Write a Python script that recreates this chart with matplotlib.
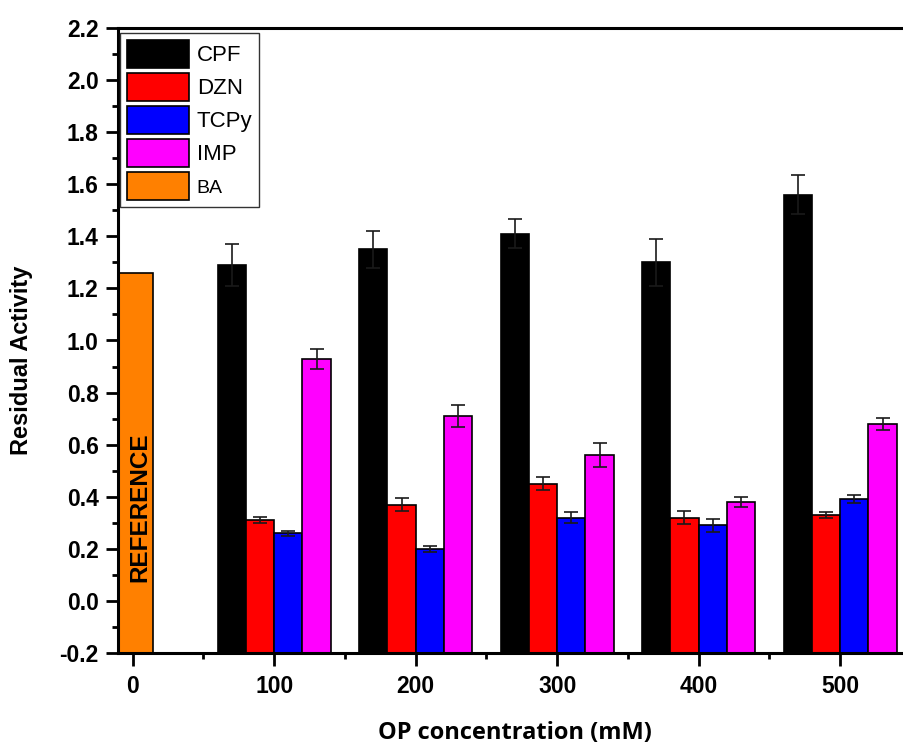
import numpy as np
import matplotlib
matplotlib.use("Agg")
import matplotlib.pyplot as plt
from matplotlib.patches import Patch

plt.rcParams["font.family"] = ["Liberation Sans", "DejaVu Sans"]

# OP concentrations (mM) and residual activity per compound
conc = np.array([100, 200, 300, 400, 500])
cpf = [1.29, 1.35, 1.41, 1.30, 1.56]
cpf_err = [0.08, 0.07, 0.055, 0.09, 0.075]
dzn = [0.31, 0.37, 0.45, 0.32, 0.33]
dzn_err = [0.012, 0.025, 0.024, 0.024, 0.011]
tcpy = [0.26, 0.20, 0.32, 0.29, 0.39]
tcpy_err = [0.009, 0.012, 0.022, 0.025, 0.015]
imp = [0.93, 0.71, 0.56, 0.38, 0.68]
imp_err = [0.038, 0.042, 0.045, 0.019, 0.022]
ba = 1.26  # reference activity at 0 mM

series = [("CPF", cpf, cpf_err, "#000000"),
          ("DZN", dzn, dzn_err, "#ff0000"),
          ("TCPy", tcpy, tcpy_err, "#0000ff"),
          ("IMP", imp, imp_err, "#ff00ff")]

base = -0.2
width = 20
offsets = [-30, -10, 10, 30]

fig = plt.figure(figsize=(9.04, 7.49), dpi=100)
# axes runs a bit past the right edge of the figure
ax = fig.add_axes([118 / 904, 96 / 749, 807 / 904, 625 / 749])

ax.bar(0, ba - base, width=28, bottom=base, color="#ff8000",
       edgecolor="black", linewidth=1.2, zorder=2)
ax.text(5, 0.36, "REFERENCE", rotation=90, ha="center", va="center",
        fontsize=17.5, fontweight="bold", zorder=3)

for (name, vals, errs, col), off in zip(series, offsets):
    vals = np.array(vals)
    ax.bar(conc + off, vals - base, width=width, bottom=base, color=col,
           edgecolor="black", linewidth=1.2, zorder=2)
    ax.errorbar(conc + off, vals, yerr=errs, fmt="none", ecolor="#1a1a1a",
                elinewidth=1.2, capsize=4.8, capthick=1.2, zorder=3)

ax.set_xlim(-10.4, 560)
ax.set_ylim(-0.2, 2.2)
ax.set_xticks([0, 100, 200, 300, 400, 500])
ax.set_xticks([50, 150, 250, 350, 450], minor=True)
ax.set_yticks(np.arange(-0.2, 2.21, 0.2))
ax.set_yticks(np.arange(-0.1, 2.2, 0.2), minor=True)
ax.set_yticklabels([f"{v:.1f}" for v in np.arange(-0.2, 2.21, 0.2)])

for lbl in ax.get_xticklabels() + ax.get_yticklabels():
    lbl.set_fontweight("bold")
ax.tick_params(axis="both", which="major", direction="out", length=9,
               width=2, labelsize=16.5)
ax.tick_params(axis="both", which="minor", direction="out", length=4.5,
               width=2)
ax.tick_params(axis="x", pad=7)
ax.tick_params(axis="y", pad=5)

for side in ["left", "bottom", "top"]:
    ax.spines[side].set_linewidth(2.2)
ax.spines["right"].set_visible(False)

ax.set_ylabel("Residual Activity", fontsize=17, fontweight="bold",
              va="center")
ax.yaxis.set_label_coords(-0.119, 0.469)
ax.set_xlabel("OP concentration (mM)", fontsize=17, fontweight="bold",
              family=["Open Sans", "DejaVu Sans"], va="center")
ax.xaxis.set_label_coords(0.492, -0.128)

handles = [Patch(facecolor=col, edgecolor="black", linewidth=1.2)
           for _, _, _, col in series]
handles.append(Patch(facecolor="#ff8000", edgecolor="black", linewidth=1.2))
labels = [s[0] for s in series] + ["BA"]
leg = ax.legend(handles, labels, loc="upper left",
                bbox_to_anchor=(0.0025, 0.992), borderaxespad=0,
                fontsize=16, handlelength=2.8, handleheight=1.6,
                labelspacing=0.2, handletextpad=0.35, borderpad=0.3,
                fancybox=False, framealpha=1)
leg.get_frame().set_edgecolor("#333333")
leg.get_frame().set_linewidth(1.0)
leg.get_texts()[-1].set_fontsize(14)

fig.savefig("out.png", dpi=100)
